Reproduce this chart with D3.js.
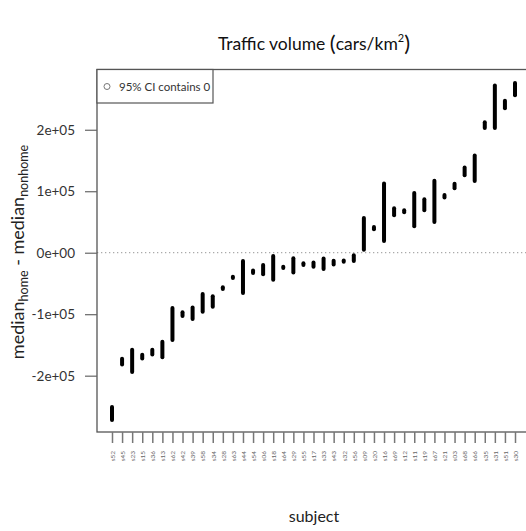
<!DOCTYPE html>
<html>
<head>
<meta charset="utf-8">
<script src="https://cdn.jsdelivr.net/npm/d3@7"></script>
<style>
  body { margin: 0; background: #fff; }
  svg text { font-family: Lato, "Open Sans", sans-serif; }
</style>
</head>
<body>
<div id="chart"></div>
<script>
// subjects in plotted order (sorted by difference of medians)
const subjects = ['s52', 's45', 's23', 's15', 's36', 's13', 's62', 's42', 's39', 's58',
    's34', 's28', 's63', 's44', 's54', 's06', 's18', 's64', 's29', 's55', 's17',
    's33', 's43', 's32', 's56', 's09', 's20', 's16', 's69', 's12', 's11', 's19',
    's67', 's21', 's03', 's68', 's66', 's35', 's31', 's51', 's30'];

// 95% CI lower / upper bounds of median_home - median_nonhome
const lower = [-272000, -182000, -194000, -172000, -165500, -170000, -142000, -103000, -108000, -96000,
    -88000, -59000, -41000, -65500, -33000, -35000, -44000, -25000, -32000, -20000, -23000,
    -26500, -19000, -14500, -13500, 5000, 38000, 19000, 61000, 66000, 43000, 69000,
    50000, 90000, 105000, 126000, 116500, 203000, 203000, 235000, 256000];
const upper = [-251000, -172500, -158000, -166000, -158000, -145000, -90000, -97000, -89000, -67000,
    -71000, -56000, -39000, -13500, -29000, -20000, -5400, -23000, -9000, -17000, -16000,
    -9500, -13000, -12500, -4000, 56500, 42000, 112500, 72500, 69000, 97000, 87000,
    117000, 94000, 112000, 138500, 158000, 212000, 272000, 247000, 276000];

const yTicks = [-200000, -100000, 0, 100000, 200000];

const W = 526, H = 531;
const plot = { left: 97, right: 531, top: 69.5, bottom: 432 };

const svg = d3.select('#chart').append('svg')
    .attr('width', W)
    .attr('height', H);

// scales
const x = d3.scalePoint()
    .domain(subjects)
    .range([112, 515]);

const y = d3.scaleLinear()
    .domain([-291600, 298000])
    .range([plot.bottom, plot.top]);

// R-like exponent labels, e.g. 2e+05
function sci(d) {
    if (d === 0) return '0e+00';
    const e = Math.floor(Math.log10(Math.abs(d)));
    const m = d / Math.pow(10, e);
    return `${m}e+${String(e).padStart(2, '0')}`;
}

// zero reference line
svg.append('line')
    .attr('x1', plot.left).attr('x2', plot.right)
    .attr('y1', y(0)).attr('y2', y(0))
    .attr('stroke', '#aaa')
    .attr('stroke-width', 1.3)
    .attr('stroke-dasharray', '1.3 2.7');

// CI segments
svg.selectAll('.ci')
    .data(subjects)
    .enter()
    .append('line')
    .attr('class', 'ci')
    .attr('x1', (d) => x(d))
    .attr('x2', (d) => x(d))
    .attr('y1', (d, i) => y(lower[i]))
    .attr('y2', (d, i) => y(upper[i]))
    .attr('stroke', '#000')
    .attr('stroke-width', 4)
    .attr('stroke-linecap', 'round');

// frame
svg.append('rect')
    .attr('x', plot.left).attr('y', plot.top)
    .attr('width', plot.right - plot.left)
    .attr('height', plot.bottom - plot.top)
    .attr('fill', 'none')
    .attr('stroke', '#555')
    .attr('stroke-width', 1.3);

// y axis
const yAxis = svg.append('g')
    .attr('transform', `translate(${plot.left},0)`)
    .call(d3.axisLeft(y).tickValues(yTicks).tickFormat(sci).tickSize(12).tickPadding(10));
yAxis.select('.domain').remove();
yAxis.selectAll('line').attr('stroke', '#666').attr('stroke-width', 1.2);
yAxis.selectAll('text')
    .attr('fill', '#333')
    .style('font-size', '13.5px')
    .attr('dy', '0.35em');

// x axis
const xAxis = svg.append('g')
    .attr('transform', `translate(0,${plot.bottom})`)
    .call(d3.axisBottom(x).tickSize(11).tickPadding(8));
xAxis.select('.domain').remove();
xAxis.selectAll('line').attr('stroke', '#777').attr('stroke-width', 1.5);
xAxis.selectAll('text')
    .attr('fill', '#666')
    .style('font-size', '6.5px')
    .attr('transform', 'rotate(-90)')
    .attr('x', -19)
    .attr('y', 0)
    .attr('dy', '0.35em')
    .style('text-anchor', 'end');

// legend
const legend = svg.append('g');
legend.append('rect')
    .attr('x', plot.left).attr('y', plot.top)
    .attr('width', 116).attr('height', 33.5)
    .attr('fill', '#fff')
    .attr('stroke', '#555')
    .attr('stroke-width', 1.2);
legend.append('circle')
    .attr('cx', 107).attr('cy', 86.5)
    .attr('r', 3)
    .attr('fill', 'none')
    .attr('stroke', '#777')
    .attr('stroke-width', 1);
legend.append('text')
    .attr('x', 119).attr('y', 86.5)
    .attr('dy', '0.35em')
    .style('font-size', '11.5px')
    .attr('fill', '#333')
    .text('95% CI contains 0');

// title
const title = svg.append('text')
    .attr('x', 314).attr('y', 50)
    .attr('text-anchor', 'middle')
    .style('font-size', '17.5px')
    .attr('fill', '#111');
title.append('tspan').text('Traffic volume ');
title.append('tspan').style('font-size', '22px').attr('dy', 1).text('(');
title.append('tspan').attr('dy', -1).text('cars/km');
title.append('tspan').style('font-size', '11px').attr('dy', -8).text('2');
title.append('tspan').style('font-size', '22px').attr('dy', 9).text(')');

// axis titles
svg.append('text')
    .attr('x', 314).attr('y', 522)
    .attr('text-anchor', 'middle')
    .style('font-size', '16px')
    .attr('fill', '#222')
    .text('subject');

const yl = svg.append('text')
    .attr('transform', 'translate(24,252) rotate(-90)')
    .attr('text-anchor', 'middle')
    .style('font-size', '18px')
    .attr('fill', '#222');
yl.append('tspan').text('median');
yl.append('tspan').style('font-size', '12.5px').attr('dy', 4).text('home');
yl.append('tspan').attr('dy', -4).text(' - median');
yl.append('tspan').style('font-size', '12.5px').attr('dy', 4).text('nonhome');
</script>
</body>
</html>
